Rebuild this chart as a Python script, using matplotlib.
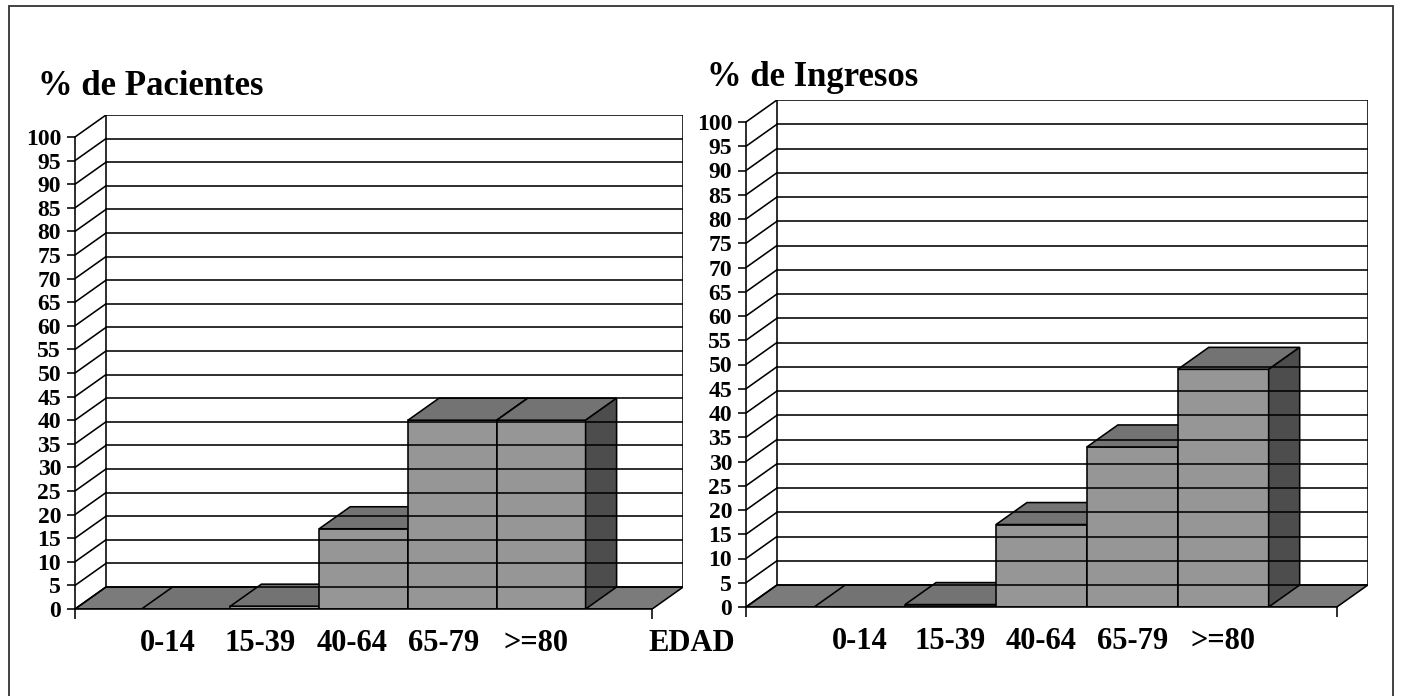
import matplotlib.pyplot as plt
from matplotlib.patches import Polygon, Rectangle

plt.rcParams['font.family'] = ['Liberation Serif', 'DejaVu Serif']
plt.rcParams['font.weight'] = 'bold'

# grupos de edad
edades = ['0-14', '15-39', '40-64', '65-79', '>=80']

# porcentajes por grupo
pacientes = [0, 0.6, 17, 40, 40]
ingresos = [0, 0.5, 17, 33, 49]

yticks = list(range(0, 101, 5))

W, H = 1401, 696
C_FRENTE = '#969696'
C_TECHO = '#737373'
C_LADO = '#4d4d4d'
C_SUELO = '#7b7b7b'
LW = 1.15


def grafico(fig, valores, titulo, ox, oy, px_cat, px_val, lab_x0, lab_step,
            tit_xy, eje_titulo=None):
    # profundidad del efecto 3D en pixeles
    dpx, dpy = 31, 22
    ncat = 6.5
    dx = dpx / px_cat
    dy = dpy / px_val
    ancho = ncat * px_cat + dpx
    alto = 100 * px_val + dpy
    ax = fig.add_axes([ox / W, (H - oy) / H, ancho / W, alto / H])
    ax.set_xlim(0, ncat + dx)
    ax.set_ylim(0, 100 + dy)
    ax.patch.set_visible(False)

    # pared del fondo y lateral con rejilla
    for v in yticks:
        ax.plot([0, dx], [v, v + dy], color='black', lw=LW)
        ax.plot([dx, ncat + dx], [v + dy, v + dy], color='black', lw=LW)
    ax.plot([dx, dx], [dy, 100 + dy], color='black', lw=LW)
    ax.plot([ncat + dx, ncat + dx], [dy, 100 + dy], color='black', lw=LW)

    # suelo
    ax.add_patch(Polygon([(0, 0), (ncat, 0), (ncat + dx, dy), (dx, dy)],
                         closed=True, facecolor=C_SUELO, edgecolor='black', lw=LW))

    # columnas
    for i, v in enumerate(valores):
        x0 = 0.75 + i
        x1 = x0 + 1
        ax.add_patch(Polygon([(x0, 0), (x1, 0), (x1, v), (x0, v)], closed=True,
                             facecolor=C_FRENTE, edgecolor='black', lw=LW))
        ax.add_patch(Polygon([(x0, v), (x1, v), (x1 + dx, v + dy), (x0 + dx, v + dy)],
                             closed=True, facecolor=C_TECHO, edgecolor='black', lw=LW))
        ax.add_patch(Polygon([(x1, 0), (x1 + dx, dy), (x1 + dx, v + dy), (x1, v)],
                             closed=True, facecolor=C_LADO, edgecolor='black', lw=LW))

    # ejes frontales
    for s in ['top', 'right']:
        ax.spines[s].set_visible(False)
    ax.spines['left'].set_bounds(0, 100)
    ax.spines['bottom'].set_bounds(0, ncat)
    ax.spines['left'].set_linewidth(LW)
    ax.spines['bottom'].set_linewidth(LW)
    ax.set_yticks(yticks)
    ax.set_yticklabels([str(t) for t in yticks], fontsize=17, fontweight='bold')
    ax.set_xticks([0, ncat])
    ax.set_xticklabels(['', ''])
    ax.tick_params(axis='y', direction='out', length=6, width=LW, pad=4)
    ax.tick_params(axis='x', direction='out', length=7, width=LW)

    for i, e in enumerate(edades):
        ax.annotate(e, (lab_x0 + lab_step * i, 0), xytext=(0, -25), textcoords='offset points',
                    ha='center', va='center', fontsize=22, fontweight='bold',
                    annotation_clip=False)
    if eje_titulo:
        ax.annotate(eje_titulo, ((692 - ox) / px_cat, 0), xytext=(0, -25),
                    textcoords='offset points', ha='center', va='center',
                    fontsize=22, fontweight='bold', annotation_clip=False)

    fig.text(tit_xy[0] / W, 1 - tit_xy[1] / H, titulo, fontsize=25,
             fontweight='bold', ha='left', va='baseline')
    return ax


fig = plt.figure(figsize=(W / 100, H / 100), dpi=100)
fig.patch.set_facecolor('white')

# marco exterior
fig.add_artist(Rectangle((9 / W, -0.05), (1393 - 9) / W, 1.05 - 6 / H,
                         transform=fig.transFigure, fill=False,
                         edgecolor='#333333', lw=1.3))

grafico(fig, pacientes, '% de Pacientes', 75, 609, 88.8, 4.72, 1.05, 1.035,
        (38, 95), eje_titulo='EDAD')
grafico(fig, ingresos, '% de Ingresos', 746, 607, 90.9, 4.85, 1.25, 1.0,
        (707, 86))

fig.savefig('out.png', dpi=100)
